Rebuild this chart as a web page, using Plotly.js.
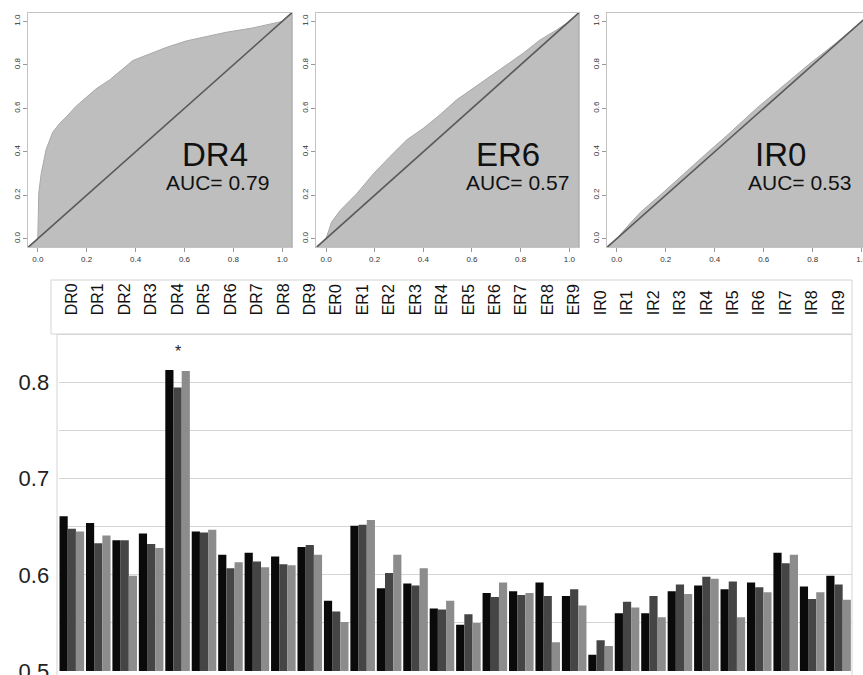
<!DOCTYPE html>
<html>
<head>
<meta charset="utf-8">
<script src="https://cdn.plot.ly/plotly-3.0.1.min.js"></script>
<style>html,body{margin:0;padding:0;background:#fff;}#chart{width:863px;height:675px;}</style>
</head>
<body>
<div id="chart"></div>
<script>
// ---- Bar chart data ----
const categories = ['DR0','DR1','DR2','DR3','DR4','DR5','DR6','DR7','DR8','DR9',
                    'ER0','ER1','ER2','ER3','ER4','ER5','ER6','ER7','ER8','ER9',
                    'IR0','IR1','IR2','IR3','IR4','IR5','IR6','IR7','IR8','IR9'];
const seriesBlack = [0.661,0.654,0.636,0.643,0.813,0.645,0.621,0.623,0.619,0.629,
                     0.573,0.651,0.586,0.591,0.565,0.548,0.581,0.583,0.592,0.578,
                     0.517,0.560,0.560,0.583,0.589,0.585,0.592,0.623,0.588,0.599];
const seriesDark  = [0.648,0.633,0.636,0.632,0.795,0.644,0.607,0.614,0.611,0.631,
                     0.562,0.652,0.602,0.589,0.564,0.559,0.577,0.579,0.578,0.585,
                     0.532,0.572,0.578,0.590,0.598,0.593,0.587,0.612,0.575,0.590];
const seriesLight = [0.645,0.641,0.599,0.628,0.812,0.647,0.613,0.608,0.610,0.621,
                     0.551,0.657,0.621,0.607,0.573,0.550,0.592,0.581,0.530,0.568,
                     0.526,0.566,0.556,0.580,0.596,0.556,0.582,0.621,0.582,0.574];
const yTickVals = [0.5,0.55,0.6,0.65,0.7,0.75,0.8,0.85];
const yTickText = ['0.5','','0.6','','0.7','','0.8',''];
const starCategory = 'DR4';
const starValue = 0.832;

// ---- ROC curves data ----
const dr4Fpr = [0,0.002,0.004,0.014,0.034,0.061,0.089,0.116,0.157,0.198,0.239,0.293,0.348,0.389,0.457,0.525,0.607,0.689,0.771,0.88,1];
const dr4Tpr = [0,0.10,0.21,0.30,0.41,0.49,0.53,0.56,0.61,0.65,0.69,0.73,0.78,0.82,0.85,0.88,0.91,0.93,0.95,0.97,1];
const er6Fpr = [0,0.023,0.058,0.126,0.195,0.263,0.332,0.4,0.468,0.537,0.605,0.674,0.742,0.81,0.879,0.947,1];
const er6Tpr = [0,0.077,0.13,0.207,0.299,0.378,0.455,0.508,0.57,0.639,0.692,0.746,0.8,0.853,0.914,0.96,1];
const ir0Fpr = [0,0.05,0.1,0.177,0.25,0.374,0.45,0.571,0.65,0.782,0.9,1];
const ir0Tpr = [0,0.065,0.125,0.2,0.275,0.4,0.475,0.6,0.675,0.8,0.905,1];
const rocNames = ['DR4','ER6','IR0'];
const rocAuc = ['AUC= 0.79','AUC= 0.57','AUC= 0.53'];
const rocTickVals = [0,0.2,0.4,0.6,0.8,1];
const rocTickText = ['0.0','0.2','0.4','0.6','0.8','1.0'];

const LO = -0.04, HI = 1.04;
const W = 863, H = 675;
const px = v => v / W;
const py = v => 1 - v / H;

const traces = [];
const barColors = ['#0a0a0a','#454545','#8c8c8c'];
[seriesBlack, seriesDark, seriesLight].forEach((s, i) => {
  traces.push({type:'bar', x:categories, y:s, xaxis:'x', yaxis:'y',
    marker:{color:barColors[i], line:{width:0}}, hoverinfo:'skip'});
});

function rocTraces(fpr, tpr, ax) {
  const xs = [LO, 0].concat(fpr, [1, HI, HI, LO]);
  const ys = [LO, 0].concat(tpr, [1, HI, LO, LO]);
  traces.push({type:'scatter', mode:'lines', x:xs, y:ys, fill:'toself',
    fillcolor:'#bebebe', line:{color:'#a8a8a8', width:1}, xaxis:'x'+ax, yaxis:'y'+ax, hoverinfo:'skip'});
  traces.push({type:'scatter', mode:'lines', x:[LO, HI], y:[LO, HI],
    line:{color:'#5a5a5a', width:1.6}, xaxis:'x'+ax, yaxis:'y'+ax, hoverinfo:'skip'});
}
rocTraces(dr4Fpr, dr4Tpr, 2);
rocTraces(er6Fpr, er6Tpr, 3);
rocTraces(ir0Fpr, ir0Tpr, 4);

function rocX(dom, range) {
  return {domain:dom, range:range, showgrid:false, zeroline:false,
    showline:true, mirror:true, linecolor:'#c4c4c4', linewidth:1,
    tickmode:'array', tickvals:rocTickVals, ticktext:rocTickText, ticklabeloverflow:'allow',
    ticks:'outside', ticklen:4, tickcolor:'#999', tickfont:{family:'Liberation Sans, Arial', size:8, color:'#333'}};
}
function rocY(dom, anchor, mirror) {
  return {domain:dom, range:[LO, HI], anchor:anchor, showgrid:false, zeroline:false,
    showline:true, mirror:mirror, linecolor:'#c4c4c4', linewidth:1,
    tickmode:'array', tickvals:rocTickVals, ticktext:rocTickText, tickangle:-90,
    ticks:'outside', ticklen:4, tickcolor:'#999', tickfont:{family:'Liberation Sans, Arial', size:8, color:'#333'}};
}
const rocYDom = [py(247.4), py(12.7)];

const annotations = [];
const rocTextPos = [[0.727,0.387,0.736,0.258],[0.748,0.387,0.789,0.258],[0.67,0.387,0.747,0.258]];
for (let i = 0; i < 3; i++) {
  const ax = i + 2, p = rocTextPos[i];
  annotations.push({xref:'x'+ax, yref:'y'+ax, x:p[0], y:p[1], text:rocNames[i], showarrow:false,
    font:{family:'Liberation Sans, Arial', size:33, color:'#111'}});
  annotations.push({xref:'x'+ax, yref:'y'+ax, x:p[2], y:p[3], text:rocAuc[i], showarrow:false,
    font:{family:'Liberation Sans, Arial', size:21, color:'#111'}});
}
annotations.push({xref:'x', yref:'y', x:starCategory, y:starValue, text:'*', showarrow:false,
  font:{family:'Liberation Sans, Arial', size:16, color:'#222'}});

const layout = {
  width:W, height:H, margin:{l:0,r:0,t:0,b:0}, paper_bgcolor:'#fff', plot_bgcolor:'rgba(0,0,0,0)',
  showlegend:false, barmode:'group', bargap:0.07, bargroupgap:0,
  xaxis:{domain:[px(58.6), px(851.8)], side:'top', type:'category', tickangle:-90,
    ticks:'outside', ticklen:15, tickcolor:'rgba(0,0,0,0)', showgrid:false, zeroline:false, showline:false,
    tickfont:{family:'Liberation Sans, Arial', size:16, color:'#111'}},
  yaxis:{domain:[py(671), py(334.5)], range:[0.5, 0.85], tickmode:'array', tickvals:yTickVals, ticktext:yTickText,
    showgrid:true, gridcolor:'#d6d6d6', gridwidth:1, zeroline:false, showline:false, ticklabeloverflow:'allow',
    ticks:'outside', ticklen:4, tickcolor:'rgba(0,0,0,0)',
    tickfont:{family:'Liberation Sans, Arial', size:22, color:'#222'}},
  xaxis2:rocX([px(28), px(292)], [LO, HI]),
  yaxis2:rocY(rocYDom, 'x2', true),
  xaxis3:rocX([px(316.3), px(579)], [LO, HI]),
  yaxis3:rocY(rocYDom, 'x3', true),
  xaxis4:rocX([px(606.9), 1], [LO, (W - 616.7) / 245]),
  yaxis4:rocY(rocYDom, 'x4', false),
  annotations:annotations,
  shapes:[
    {type:'rect', xref:'paper', yref:'paper', x0:px(51), x1:px(852), y0:py(334), y1:py(280), line:{color:'#d4d4d4', width:1}},
    {type:'rect', xref:'paper', yref:'paper', x0:px(57), x1:px(852), y0:py(680), y1:py(334.5), line:{color:'#d4d4d4', width:1}}
  ]
};
layout.xaxis2.anchor = 'y2';
layout.xaxis3.anchor = 'y3';
layout.xaxis4.anchor = 'y4';

Plotly.newPlot('chart', traces, layout, {staticPlot:true, displayModeBar:false});
</script>
</body>
</html>
